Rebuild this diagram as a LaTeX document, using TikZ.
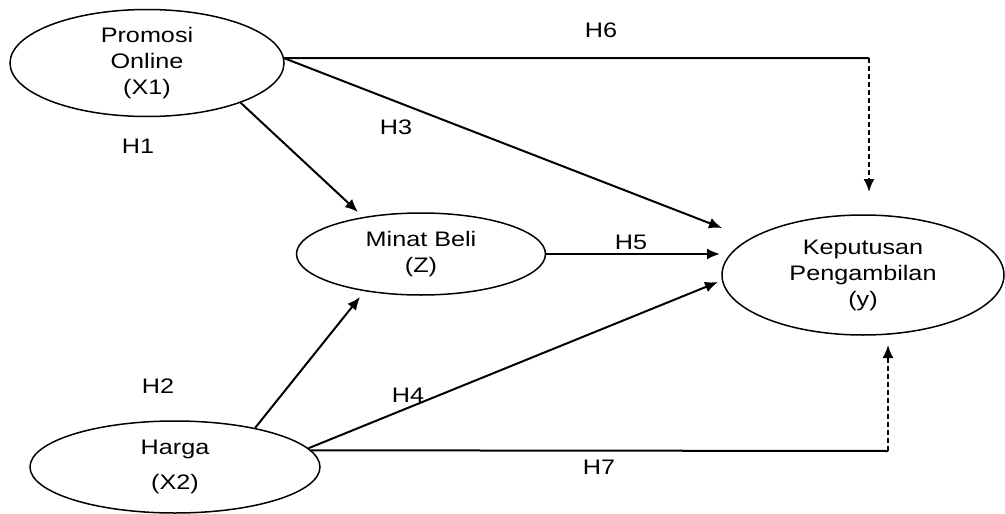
\documentclass[tikz,border=0pt]{standalone}
\usepackage{fontspec}
\setmainfont{Liberation Sans}[FakeStretch=1.2]
\usetikzlibrary{shapes.geometric,arrows.meta}
\begin{document}
\begin{tikzpicture}[x=1pt,y=-1pt,
  var/.style={draw, ellipse, line width=1.5pt, inner sep=0pt, align=center,
    font=\fontsize{21}{26}\selectfont},
  hyp/.style={font=\fontsize{21}{24}\selectfont, inner sep=0pt},
  plain/.style={line width=2pt},
  link/.style={plain, -{Latex[length=13pt,width=11pt]}},
  dlink/.style={link, dash pattern=on 5pt off 3pt}
]
\useasboundingbox (0,0) rectangle (1005,514);

% latent variables
\node[var, minimum width=274, minimum height=107] (P) at (147,63) {Promosi\\Online\\(X1)};
\node[var, minimum width=249, minimum height=82] (M) at (421,254) {Minat Beli\\(Z)};
\node[var, minimum width=282, minimum height=120] (K) at (863,275) {Keputusan\\Pengambilan\\(y)};
\node[var, minimum width=290, minimum height=92] (H) at (175,467) {Harga\\[9pt](X2)};

% arrow tips and bends
\coordinate (tH1) at (358,212);
\coordinate (tH2) at (360,297);
\coordinate (tH3) at (722,228);
\coordinate (tH4) at (718,282);
\coordinate (tH5) at (720,254);
\coordinate (cH6) at (869,58);
\coordinate (tH6) at (869,192);
\coordinate (cH7) at (888,451);
\coordinate (tH7) at (888,345);

% paths
\draw[link] (P.-23) -- (tH1);
\draw[link] (H.26) -- (tH2);
\draw[link] (P.2) -- (tH3);
\draw[link] (H.8) -- (tH4);
\draw[link] (M.east) -- (tH5);
\draw[plain] (P.2) -- (cH6);
\draw[dlink] (cH6) -- (tH6);
\draw[plain] (H.7) -- (cH7);
\draw[dlink] (cH7) -- (tH7);

% hypothesis labels
\node[hyp] (h1) at (138,146) {H1};
\node[hyp] (h2) at (158,386) {H2};
\node[hyp] (h3) at (396,127) {H3};
\node[hyp] (h4) at (408,395) {H4};
\node[hyp] (h5) at (631,242) {H5};
\node[hyp] (h6) at (601,30) {H6};
\node[hyp] (h7) at (599,467) {H7};
\end{tikzpicture}
\end{document}
